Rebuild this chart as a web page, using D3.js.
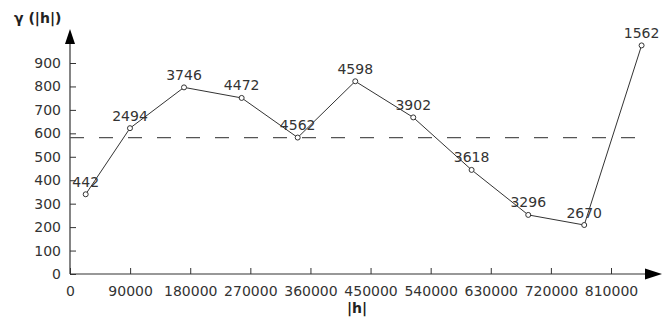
<!DOCTYPE html>
<html>
<head>
<meta charset="utf-8">
<script src="https://cdn.jsdelivr.net/npm/d3@7"></script>
<style>
  html, body { margin: 0; padding: 0; background: #fff; }
  svg { display: block; }
  .tick text { font-family: "DejaVu Sans", sans-serif; font-size: 14px; fill: #333; }
  .tick line { stroke: #333; stroke-width: 1; }
</style>
</head>
<body>
<svg id="chart" width="663" height="322"></svg>
<script>
// Experimental semivariogram: lag distance |h|, semivariance, and pair counts per lag
const lagDistance = [23500, 89800, 170700, 257000, 340900, 427100, 513900, 601300, 686100, 769900, 855800];
const semivariance = [340, 622, 796, 751, 582, 822, 668, 444, 252, 209, 975];
const pairCounts = [442, 2494, 3746, 4472, 4562, 4598, 3902, 3618, 3296, 2670, 1562];
const sill = 582;
const xTickValues = [0, 90000, 180000, 270000, 360000, 450000, 540000, 630000, 720000, 810000];
const yTickValues = [0, 100, 200, 300, 400, 500, 600, 700, 800, 900];

const svg = d3.select("#chart");
const x = d3.scaleLinear().domain([0, 810000]).range([70, 611]);
const y = d3.scaleLinear().domain([0, 900]).range([274, 63]);
const ink = "#333";

// Axes: inward ticks, no domain line (drawn separately with arrowheads)
const gx = svg.append("g").attr("transform", `translate(0,${y(0)})`)
  .call(d3.axisBottom(x).tickValues(xTickValues).tickSize(-6).tickPadding(12).tickFormat(d3.format("d")));
gx.select(".domain").remove();

const gy = svg.append("g").attr("transform", `translate(${x(0)},0)`)
  .call(d3.axisLeft(y).tickValues(yTickValues).tickSize(-6).tickPadding(9).tickFormat(d3.format("d")));
gy.select(".domain").remove();

// Axis lines
svg.append("line").attr("x1", x(0)).attr("x2", 647).attr("y1", y(0)).attr("y2", y(0))
  .attr("stroke", ink).attr("stroke-width", 1.2);
svg.append("line").attr("x1", x(0)).attr("x2", x(0)).attr("y1", y(0)).attr("y2", 43)
  .attr("stroke", ink).attr("stroke-width", 1.2);

// Arrowheads
svg.append("path").attr("d", `M${x(0)},29 L${x(0) + 5},44 L${x(0) - 5},44 Z`).attr("fill", "#000");
svg.append("path").attr("d", `M662,${y(0)} L645,${y(0) - 5.5} L645,${y(0) + 5.5} Z`).attr("fill", "#000");

// Sill reference line
svg.append("line").attr("x1", x(0)).attr("x2", 646).attr("y1", y(sill)).attr("y2", y(sill))
  .attr("stroke", "#555").attr("stroke-width", 1.3).attr("stroke-dasharray", "14,15");

// Semivariogram polyline
const line = d3.line().x((d, i) => x(lagDistance[i])).y(d => y(d));
svg.append("path").datum(semivariance).attr("d", line)
  .attr("fill", "none").attr("stroke", "#333").attr("stroke-width", 1);

// Point markers
svg.selectAll("circle.pt").data(semivariance).join("circle").attr("class", "pt")
  .attr("cx", (d, i) => x(lagDistance[i])).attr("cy", d => y(d)).attr("r", 2.5)
  .attr("fill", "#fff").attr("stroke", "#333").attr("stroke-width", 1);

// Pair count labels
svg.selectAll("text.cnt").data(semivariance).join("text").attr("class", "cnt")
  .attr("x", (d, i) => x(lagDistance[i])).attr("y", d => y(d) - 7.5)
  .attr("text-anchor", "middle")
  .attr("font-family", "DejaVu Sans, sans-serif").attr("font-size", 14).attr("fill", ink)
  .text((d, i) => pairCounts[i]);

// Axis titles
svg.append("text").attr("x", 14).attr("y", 23)
  .attr("font-family", "DejaVu Sans, sans-serif").attr("font-size", 14).attr("font-weight", "bold").attr("fill", "#222")
  .text("γ (|h|)");
svg.append("text").attr("x", 357).attr("y", 313).attr("text-anchor", "middle")
  .attr("font-family", "DejaVu Sans, sans-serif").attr("font-size", 14).attr("font-weight", "bold").attr("fill", "#222")
  .text("|h|");
</script>
</body>
</html>
